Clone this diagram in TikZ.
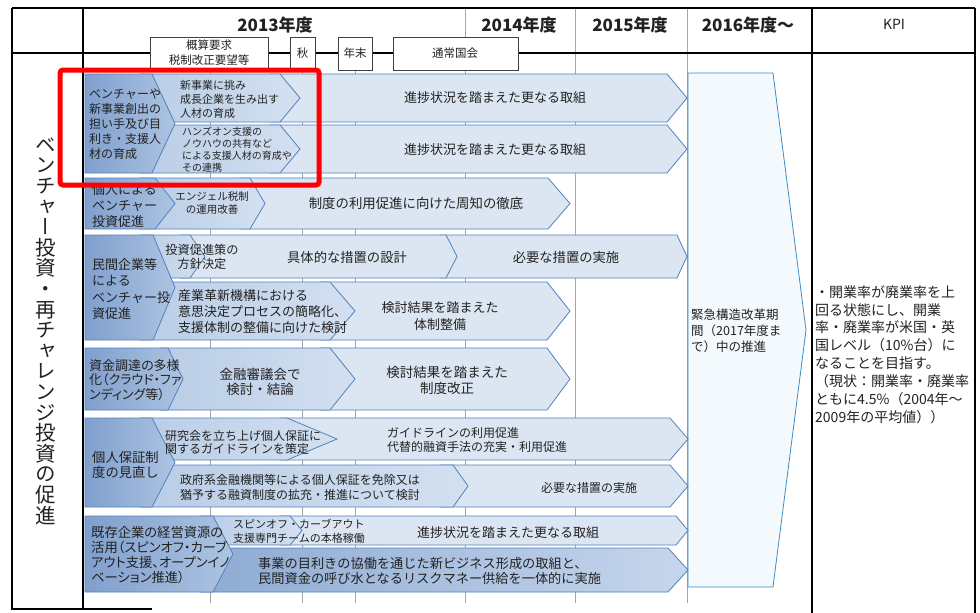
\documentclass[tikz,border=0pt]{standalone}
\usepackage{fontspec}
\usepackage{graphicx}
\setmainfont{Noto Sans CJK JP}
\newfontfamily\jpv[RawFeature=+vert]{Noto Sans CJK JP}
\newfontfamily\jpp[RawFeature=+palt]{Noto Sans CJK JP}
\definecolor{edgeb}{HTML}{5082BE}
\definecolor{longc}{HTML}{DCE6F2}
\definecolor{subl}{HTML}{B9CDE6}
\definecolor{subr}{HTML}{D3E0F0}
\definecolor{catl}{HTML}{809FCD}
\definecolor{catr}{HTML}{ADC4E2}
\definecolor{darkl}{HTML}{8EABD3}
\definecolor{darkr}{HTML}{C6D6EC}
\definecolor{emfill}{HTML}{F4F9FD}
\definecolor{emedge}{HTML}{3D8CC4}
\definecolor{gridc}{HTML}{A6A6A6}
\definecolor{txtc}{HTML}{222222}
\newcommand{\chv}[6]{\path[#1] (#2,#3) -- (#5,#3) -- (#6,{(#3+#4)/2}) -- (#5,#4) -- (#2,#4) -- cycle;}
\tikzset{
  longa/.style={draw=edgeb, line width=0.8pt, fill=longc},
  suba/.style={draw=edgeb, line width=0.8pt, left color=subl, right color=subr},
  cata/.style={draw=edgeb, line width=0.8pt, left color=catl, right color=catr},
  darka/.style={draw=edgeb, line width=0.8pt, left color=darkl, right color=darkr},
  emer/.style={draw=emedge, line width=0.8pt, fill=emfill},
  thick line/.style={line width=2.9pt, black},
  grid line/.style={line width=0.8pt, gridc},
  mbox/.style={draw=black!75, line width=0.8pt, fill=white},
  txt/.style={inner sep=0pt, text=txtc},
  ltxt/.style={txt, align=left, anchor=west},
  ctxt/.style={txt, align=center, anchor=center},
  fs/.style={font=\fontsize{#1}{#1}\selectfont},
}
\begin{document}
\begin{tikzpicture}[x=1pt,y=-1pt]
\useasboundingbox (0,0) rectangle (980,613);
\fill[white] (0,0) rectangle (980,613);
% grid lines
\foreach \gx in {465,575,687} \draw[grid line] (\gx,8) -- (\gx,603);
\foreach \gx in {210,302,355} \draw[grid line] (\gx,69) -- (\gx,603);
% table frame
\draw[thick line] (12,8) -- (975,8);
\draw[thick line] (12,53) -- (975,53);
\draw[thick line] (12,8) -- (12,610);
\draw[thick line] (83,8) -- (83,610);
\draw[thick line] (812,8) -- (812,613);
\draw[thick line] (975,8) -- (975,613);
\draw[thick line] (12,609) -- (152,609);
% milestone boxes
\path[mbox] (150,37) rectangle (268,70);
\path[mbox] (290,37) rectangle (315,69);
\path[mbox] (338,37) rectangle (372,70);
\path[mbox] (393,37) rectangle (518,70);
% emergency period shape
\path[emer] (688,73) -- (773,73) -- (806,330) -- (773,587) -- (688,587) -- cycle;
% long arrows
\chv{longa}{270}{74}{122}{667}{687}
\chv{longa}{270}{125}{173}{667}{687}
\chv{longa}{240}{178}{229}{548}{570}
\chv{longa}{440}{235}{278}{677}{687}
\chv{longa}{180}{235}{278}{446}{457}
\chv{longa}{320}{282}{340}{547}{570}
\chv{longa}{320}{348}{410}{547}{570}
\chv{suba}{160}{348}{410}{330}{355}
\chv{longa}{280}{418}{460}{670}{688}
\chv{longa}{440}{465}{507}{670}{688}
\chv{longa}{280}{516}{545}{676}{688}
\chv{darka}{200}{548}{592}{668}{688}
% sub chevrons
\chv{suba}{140}{74}{122}{280}{300}
\chv{suba}{140}{125}{173}{280}{300}
\chv{suba}{140}{178}{229}{250}{265}
\chv{suba}{140}{235}{278}{190}{205}
\chv{suba}{140}{282}{340}{330}{355}
\chv{suba}{140}{418}{460}{287}{337}
\chv{suba}{140}{465}{507}{453}{468}
\chv{suba}{200}{516}{545}{290}{302}
% categories
\chv{cata}{85}{74}{173}{152}{175}
\chv{cata}{85}{178}{229}{155}{175}
\chv{cata}{85}{235}{340}{153}{175}
\chv{cata}{85}{348}{410}{168}{183}
\chv{cata}{85}{418}{507}{152}{175}
\chv{cata}{85}{516}{592}{213}{233}
% header texts
\node[ctxt, font=\bfseries\fontsize{17}{20}\selectfont] (y13) at (275,25) {2013年度};
\node[ctxt, font=\bfseries\fontsize{17}{20}\selectfont] (y14) at (519,25) {2014年度};
\node[ctxt, font=\bfseries\fontsize{17}{20}\selectfont] (y15) at (630,25) {2015年度};
\node[ctxt, font=\bfseries\fontsize{17}{20}\selectfont] (y16) at (748,25) {2016年度〜};
\node[ctxt, fs=14] (kpih) at (894,24) {KPI};
\node[ctxt, font=\fontsize{11.5}{15}\selectfont] (m1) at (209,53) {概算要求\\税制改正要望等};
\node[ctxt, fs=11.5] (m2) at (302.5,53) {秋};
\node[ctxt, fs=11.5] (m3) at (355,53) {年末};
\node[ctxt, fs=11.5] (m4) at (455,53) {通常国会};
% vertical title
\node[txt, align=center, font=\jpv\fontsize{20.5}{20.6}\selectfont] (title) at (46,331) {ベ\\ン\\チ\\ャ\\ー\\投\\資\\・\\再\\チ\\ャ\\レ\\ン\\ジ\\投\\資\\の\\促\\進};
% row 1
\node[ltxt, font=\fontsize{12}{15}\selectfont] (c1) at (89,124) {ベンチャーや\\新事業創出の\\担い手及び目\\利き・支援人\\材の育成};
\node[ltxt, font=\fontsize{11}{14}\selectfont] (s1a) at (180,99) {新事業に挑み\\成長企業を生み出す\\人材の育成};
\node[ltxt, font=\fontsize{10}{12}\selectfont] (s1b) at (182,149.5) {ハンズオン支援の\\ノウハウの共有など\\による支援人材の育成や\\その連携};
\node[ctxt, fs=13] (l1a) at (495,98) {進捗状況を踏まえた更なる取組};
\node[ctxt, fs=13] (l1b) at (495,150) {進捗状況を踏まえた更なる取組};
% row 2
\node[ltxt, font=\fontsize{13}{16}\selectfont] (c2) at (92,206) {個人による\\ベンチャー\\投資促進};
\node[ctxt, font=\fontsize{10.5}{13}\selectfont] (s2) at (212,203) {エンジェル税制\\の運用改善};
\node[ctxt, fs=13.4] (l2) at (416,203) {制度の利用促進に向けた周知の徹底};
% row 3
\node[ltxt, font=\fontsize{13}{16.3}\selectfont] (c3) at (92,289) {民間企業等\\による\\ベンチャー投\\資促進};
\node[ctxt, font=\fontsize{12.2}{14}\selectfont] (s3a) at (202,257) {投資促進策の\\方針決定};
\node[ctxt, fs=13.3] (l3a) at (347,257) {具体的な措置の設計};
\node[ctxt, fs=13.3] (l3b) at (566,257) {必要な措置の実施};
\node[ltxt, font=\fontsize{13}{16}\selectfont] (s3b) at (178,312) {産業革新機構における\\意思決定プロセスの簡略化、\\支援体制の整備に向けた検討};
\node[ctxt, font=\fontsize{13}{17}\selectfont] (l3c) at (440,316) {検討結果を踏まえた\\体制整備};
% row 4
\node[ltxt, font=\jpp\fontsize{13}{14.5}\selectfont] (c4) at (89,380) {資金調達の多様\\化（クラウド・ファ\\ンディング等）};
\node[ctxt, font=\fontsize{13.5}{15.5}\selectfont] (l4a) at (260,382) {金融審議会で\\検討・結論};
\node[ctxt, font=\fontsize{13.5}{16}\selectfont] (l4b) at (447,380) {検討結果を踏まえた\\制度改正};
% row 5
\node[ltxt, font=\fontsize{13.3}{15}\selectfont] (c5) at (92,465) {個人保証制\\度の見直し};
\node[ltxt, font=\fontsize{12}{13}\selectfont] (s5a) at (165,442) {研究会を立ち上げ個人保証に\\関するガイドラインを策定};
\node[ltxt, font=\fontsize{12}{14}\selectfont] (l5a) at (387,440) {ガイドラインの利用促進\\代替的融資手法の充実・利用促進};
\node[ltxt, font=\fontsize{12}{15}\selectfont] (s5b) at (180,487.5) {政府系金融機関等による個人保証を免除又は\\猶予する融資制度の拡充・推進について検討};
\node[ctxt, fs=12] (l5b) at (589,488) {必要な措置の実施};
% row 6
\node[ltxt, font=\jpp\fontsize{13.3}{14.7}\selectfont] (c6) at (91,555) {既存企業の経営資源の\\活用（スピンオフ・カーブ\\アウト支援、オープンイノ\\ベーション推進）};
\node[ltxt, font=\fontsize{11}{14}\selectfont] (s6a) at (233,531) {スピンオフ・カーブアウト\\支援専門チームの本格稼働};
\node[ctxt, fs=13] (l6a) at (508,533) {進捗状況を踏まえた更なる取組};
\node[ltxt, font=\fontsize{13.2}{15}\selectfont] (l6b) at (258,570.5) {事業の目利きの協働を通じた新ビジネス形成の取組と、\\民間資金の呼び水となるリスクマネー供給を一体的に実施};
% emergency text
\node[ltxt, font=\fontsize{12.5}{16}\selectfont] (em) at (691,331) {緊急構造改革期\\間（2017年度ま\\で）中の推進};
% KPI text
\node[ltxt, font=\fontsize{14}{17.9}\selectfont] (kpi) at (815,354.5) {・開業率が廃業率を上\\回る状態にし、開業\\率・廃業率が米国・英\\国レベル（10\%台）に\\なることを目指す。\\（現状：開業率・廃業率\\ともに4.5\%（2004年〜\\2009年の平均値））};
% red highlight
\draw[red, line width=5pt, rounded corners=3pt] (60,70) rectangle (319,185);
\end{tikzpicture}
\end{document}
